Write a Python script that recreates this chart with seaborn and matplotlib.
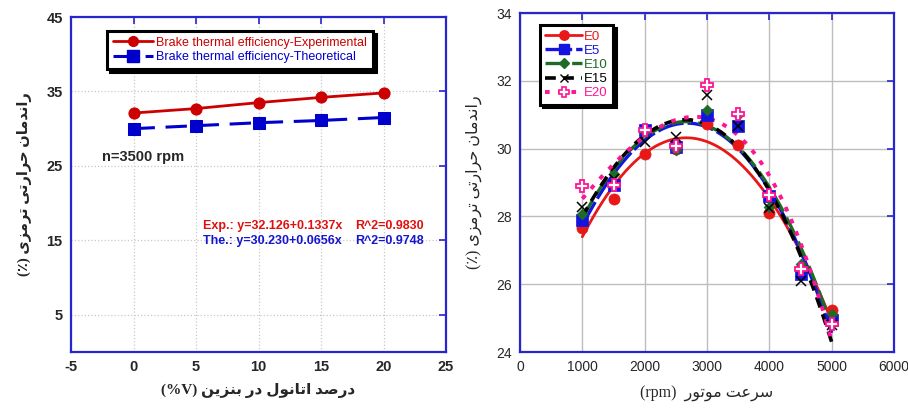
import numpy as np
import pandas as pd
import matplotlib
matplotlib.use("Agg")
import matplotlib.pyplot as plt
from matplotlib.lines import Line2D
import seaborn as sns

# ---------------- data ----------------
ethanol = [0, 5, 10, 15, 20]
bte_exp = [32.1, 32.7, 33.5, 34.2, 34.8]
bte_theo = [30.0, 30.4, 30.8, 31.1, 31.5]

rpm = [1000, 1500, 2000, 2500, 3000, 3500, 4000, 4500, 5000]
e0 = [27.66, 28.50, 29.84, 30.00, 30.73, 30.12, 28.10, 26.45, 25.25]
e5 = [27.90, 28.94, 30.56, 30.04, 31.00, 30.66, 28.59, 26.29, 24.93]
e10 = [28.06, 29.26, 30.49, 29.97, 31.15, 30.98, 28.28, 26.59, 25.11]
e15 = [28.28, 29.10, 30.20, 30.34, 31.59, 30.67, 28.26, 26.08, 24.79]
e20 = [28.89, 28.92, 30.56, 30.07, 31.89, 31.03, 28.64, 26.46, 24.82]
blend_names = ["E0", "E5", "E10", "E15", "E20"]

left_xticks = [-5, 0, 5, 10, 15, 20, 25]
left_yticks = [5, 15, 25, 35, 45]
right_xticks = [0, 1000, 2000, 3000, 4000, 5000, 6000]
right_yticks = [24, 26, 28, 30, 32, 34]

# ---------------- simple Persian shaping ----------------
FORMS = {
    'ا': ('\uFE8D', '\uFE8E', None, None),
    'ب': ('\uFE8F', '\uFE90', '\uFE91', '\uFE92'),
    'ت': ('\uFE95', '\uFE96', '\uFE97', '\uFE98'),
    'ح': ('\uFEA1', '\uFEA2', '\uFEA3', '\uFEA4'),
    'د': ('\uFEA9', '\uFEAA', None, None),
    'ر': ('\uFEAD', '\uFEAE', None, None),
    'ز': ('\uFEAF', '\uFEB0', None, None),
    'س': ('\uFEB1', '\uFEB2', '\uFEB3', '\uFEB4'),
    'ص': ('\uFEB9', '\uFEBA', '\uFEBB', '\uFEBC'),
    'ع': ('\uFEC9', '\uFECA', '\uFECB', '\uFECC'),
    'ل': ('\uFEDD', '\uFEDE', '\uFEDF', '\uFEE0'),
    'م': ('\uFEE1', '\uFEE2', '\uFEE3', '\uFEE4'),
    'ن': ('\uFEE5', '\uFEE6', '\uFEE7', '\uFEE8'),
    'و': ('\uFEED', '\uFEEE', None, None),
    'ی': ('\uFBFC', '\uFBFD', '\uFBFE', '\uFBFF'),
}


def shape_word(w):
    out = []
    n = len(w)
    for i, c in enumerate(w):
        f = FORMS.get(c)
        if f is None:
            out.append(c)
            continue
        prev = w[i - 1] if i > 0 else None
        nxt = w[i + 1] if i < n - 1 else None
        jp = prev in FORMS and FORMS[prev][2] is not None
        jn = (nxt in FORMS) and f[2] is not None
        if jp and jn:
            out.append(f[3])
        elif jp:
            out.append(f[1])
        elif jn:
            out.append(f[2])
        else:
            out.append(f[0])
    return ''.join(reversed(out))


def rtl(text):
    return ' '.join(shape_word(w) for w in reversed(text.split()))


left_xlabel = '(%V) ' + rtl('درصد اتانول در بنزین')
y_label = '(\u066A) ' + rtl('راندمان حرارتی ترمزی')
right_xlabel = '(rpm)  ' + rtl('سرعت موتور')

# ---------------- style ----------------
sns.set_style("white")
plt.rcParams['font.family'] = ['Liberation Sans', 'DejaVu Sans']
plt.rcParams['axes.unicode_minus'] = False
SERIF = ['Liberation Serif', 'DejaVu Sans']

BLUE_SPINE = '#2626CC'
fig = plt.figure(figsize=(9.08, 4.08), dpi=100)
axL = fig.add_axes([71 / 908, 1 - 352 / 408, 375 / 908, 335 / 408])
axR = fig.add_axes([520 / 908, 1 - 352 / 408, 374 / 908, 339 / 408])

for ax in (axL, axR):
    for s in ax.spines.values():
        s.set_color(BLUE_SPINE)
        s.set_linewidth(1.6)
        s.set_visible(True)
    ax.tick_params(direction='in', top=True, right=True, length=5, width=1.2,
                   color=BLUE_SPINE, labelsize=10, pad=6)

# ---------------- left panel ----------------
RED_L = '#CC0000'
BLUE_L = '#0000CC'
dfL = pd.DataFrame({'x': ethanol, 'exp': bte_exp, 'theo': bte_theo})
sns.lineplot(data=dfL, x='x', y='exp', ax=axL, color=RED_L, lw=2, marker='o',
             markersize=8, markeredgecolor=RED_L, zorder=4)
sns.lineplot(data=dfL, x='x', y='theo', ax=axL, color=BLUE_L, lw=2.2, marker='s',
             markersize=9, markeredgecolor=BLUE_L, dashes=False, zorder=4)
axL.lines[-1].set_dashes([7, 3.5])
axL.set_xlim(-5, 25)
axL.set_ylim(0, 45)
axL.set_xticks(left_xticks)
axL.set_yticks(left_yticks)
for lab in axL.get_xticklabels() + axL.get_yticklabels():
    lab.set_fontweight('bold')
    lab.set_fontsize(10.5)
axL.grid(True, ls=':', color='#c8c8c8', lw=0.9)
axL.set_axisbelow(True)
axL.set_xlabel(left_xlabel, fontsize=11, fontweight='bold', family=SERIF, labelpad=6)
axL.set_ylabel(y_label, fontsize=10.5, fontweight='bold', family=SERIF, labelpad=10)

hL = [Line2D([], [], color=RED_L, lw=2, marker='o', markersize=7),
      Line2D([], [], color=BLUE_L, lw=2.2, marker='s', markersize=8, dashes=[7, 3.5])]
legL = axL.legend(hL, ['Brake thermal efficiency-Experimental',
                       'Brake thermal efficiency-Theoretical'],
                  loc='upper left', bbox_to_anchor=(107 / 908, 1 - 31 / 408),
                  bbox_transform=fig.transFigure, fontsize=9, frameon=True,
                  fancybox=False, shadow={'color': 'black', 'alpha': 1},
                  handlelength=3.2, handletextpad=0.3, borderaxespad=0,
                  labelspacing=0.2, borderpad=0.45)
legL.get_frame().set_edgecolor('black')
legL.get_frame().set_linewidth(2.2)
for t, c in zip(legL.get_texts(), [RED_L, BLUE_L]):
    t.set_color(c)

axL.text(-2.55, 26.2, 'n=3500 rpm', fontsize=10.5, fontweight='bold', va='center')
axL.text(5.55, 16.9, 'Exp.: y=32.126+0.1337x', fontsize=9, fontweight='bold',
         color='#E01010', va='center')
axL.text(17.7, 16.9, 'R^2=0.9830', fontsize=9, fontweight='bold',
         color='#E01010', va='center')
axL.text(5.55, 14.9, 'The.: y=30.230+0.0656x', fontsize=9, fontweight='bold',
         color='#1515D0', va='center')
axL.text(17.7, 14.9, 'R^2=0.9748', fontsize=9, fontweight='bold',
         color='#1515D0', va='center')

# ---------------- right panel ----------------
series = [e0, e5, e10, e15, e20]
colors = ['#E81818', '#1414E0', '#1E6B28', '#000000', '#FF1493']
markers = ['o', 's', 'D', 'x', 'P']
msizes = [8, 9, 5.5, 7, 8]
dash_styles = [None, [8, 1.2], [6, 2], [3, 2], [1.2, 2.2]]
lws = [2.0, 2.4, 2.4, 2.6, 2.8]

axR.grid(True, color='#bdbdbd', lw=1.0)
axR.set_axisbelow(True)

xs = np.linspace(rpm[0], rpm[-1], 200)
for name, vals, c, ds, lw in zip(blend_names, series, colors, dash_styles, lws):
    coef = np.polyfit(rpm, vals, 3)
    fit = pd.DataFrame({'x': xs, 'y': np.polyval(coef, xs)})
    sns.lineplot(data=fit, x='x', y='y', ax=axR, color=c, lw=lw, zorder=3)
    if ds is not None:
        axR.lines[-1].set_dashes(ds)

for name, vals, c, m, ms in zip(blend_names, series, colors, markers, msizes):
    dfp = pd.DataFrame({'x': rpm, 'y': vals})
    if m == 'P':
        axR.plot(dfp['x'], dfp['y'], ls='none', marker='P', markersize=ms,
                 markerfacecolor='white', markeredgecolor=c, markeredgewidth=1.3,
                 zorder=5)
    elif m == 'x':
        axR.plot(dfp['x'], dfp['y'], ls='none', marker='x', markersize=ms,
                 color=c, markeredgewidth=1.1, zorder=5)
    else:
        sns.scatterplot(data=dfp, x='x', y='y', ax=axR, color=c, marker=m,
                        s=ms ** 2, edgecolor=c, linewidth=0.5, zorder=4)

axR.set_xlim(0, 6000)
axR.set_ylim(24, 34)
axR.set_xticks(right_xticks)
axR.set_yticks(right_yticks)
for lab in axR.get_xticklabels() + axR.get_yticklabels():
    lab.set_fontsize(10)
axR.set_xlabel(right_xlabel, fontsize=11.5, family=SERIF, labelpad=8)
axR.set_ylabel(y_label, fontsize=11.5, family=SERIF, labelpad=10)

hR = []
for c, m, ms, ds, lw in zip(colors, markers, msizes, dash_styles, lws):
    kw = dict(color=c, lw=lw, marker=m, markersize=ms * 0.85)
    if m == 'P':
        kw.update(markerfacecolor='white', markeredgecolor=c, markeredgewidth=1.2)
    if ds is not None:
        kw['dashes'] = ds
    hR.append(Line2D([], [], **kw))
legR = axR.legend(hR, blend_names, loc='upper left',
                  bbox_to_anchor=(540 / 908, 1 - 25 / 408),
                  bbox_transform=fig.transFigure, fontsize=9.5, frameon=True,
                  fancybox=False, shadow={'color': 'black', 'alpha': 1},
                  handlelength=2.8, handletextpad=0.15, borderaxespad=0,
                  labelspacing=0.15, borderpad=0.4)
legR.get_frame().set_edgecolor('black')
legR.get_frame().set_linewidth(2.2)
for t, c in zip(legR.get_texts(), colors):
    t.set_color(c)

fig.savefig('out.png', dpi=100)
